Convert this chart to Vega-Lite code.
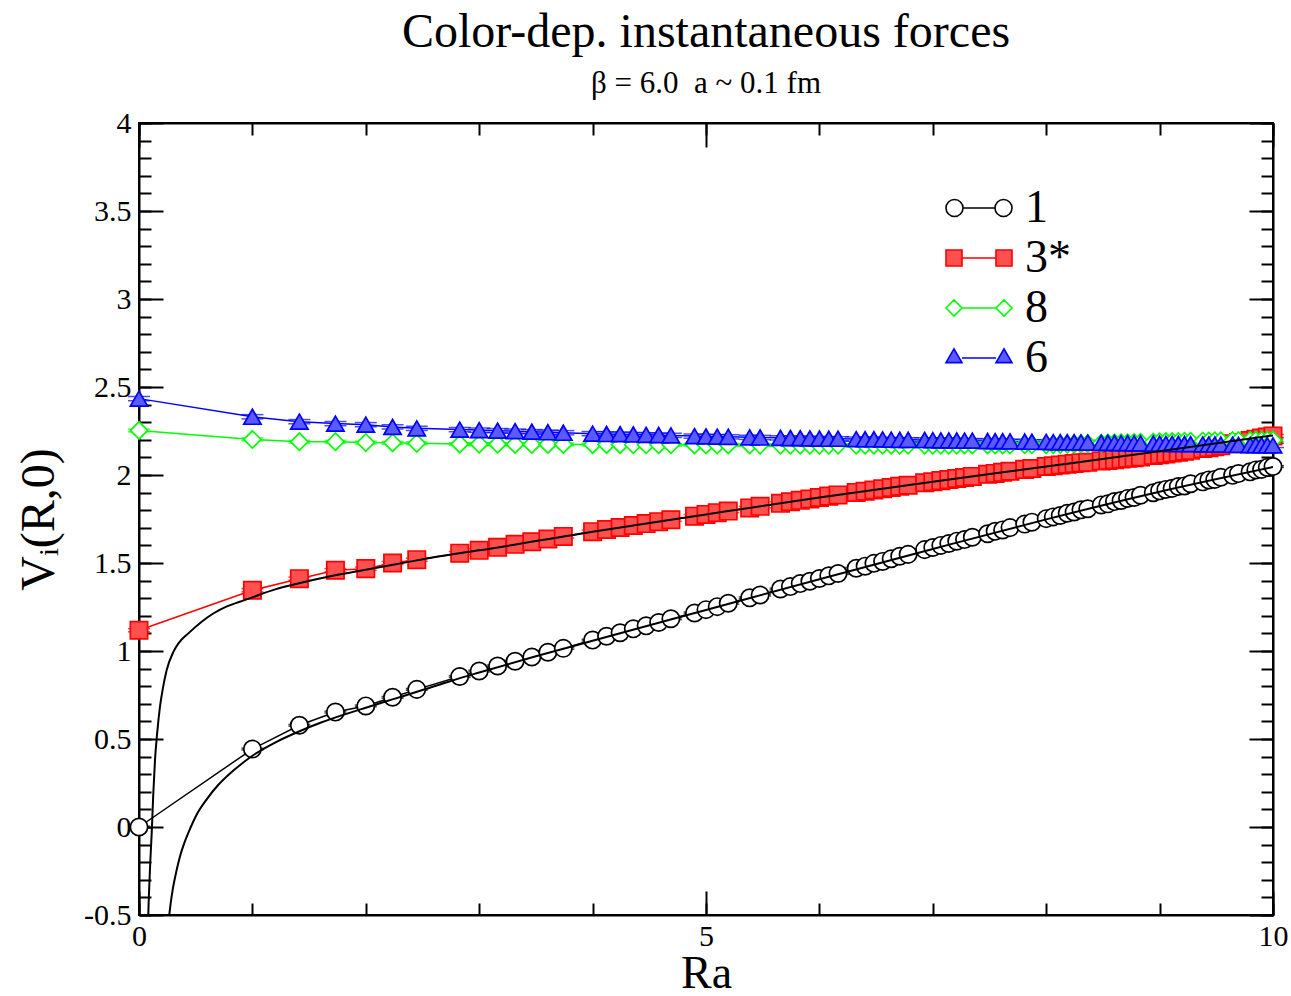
{
"$schema": "https://vega.github.io/schema/vega-lite/v6.json",
"width": 1134, "height": 792,
"autosize": {"type": "none"},
"padding": {"left": 139, "top": 123, "right": 18, "bottom": 81},
"background": "white",
"title": {"text": "Color-dep. instantaneous forces", "subtitle": "β = 6.0\u00a0 a ~ 0.1 fm", "anchor": "middle", "frame": "group", "font": "Liberation Serif", "fontSize": 48, "fontWeight": "normal", "color": "black", "subtitleFont": "Liberation Serif", "subtitleFontSize": 31, "subtitleFontWeight": "normal", "subtitleColor": "black", "offset": 9, "subtitlePadding": 12},
"config": {
  "view": {"stroke": "black", "strokeWidth": 2},
  "axis": {"grid": false, "domainColor": "black", "domainWidth": 2, "tickColor": "black", "tickWidth": 2, "labelFont": "Liberation Serif", "labelFontSize": 30, "labelColor": "black", "titleFont": "Liberation Serif", "titleFontSize": 46, "titleFontWeight": "normal", "titleColor": "black", "labelFlush": false, "labelOverlap": false}
},
"datasets": {
"pts": [
{"s":"1","R":0,"V":0,"e":0.005},{"s":"1","R":1,"V":0.443,"e":0.005},{"s":"1","R":1.4142,"V":0.578,"e":0.005},{"s":"1","R":1.7321,"V":0.653,"e":0.005},{"s":"1","R":2,"V":0.688,"e":0.005},{"s":"1","R":2.2361,"V":0.737,"e":0.005},{"s":"1","R":2.4495,"V":0.782,"e":0.005},
{"s":"1","R":2.8284,"V":0.855,"e":0.005},{"s":"1","R":3,"V":0.886,"e":0.005},{"s":"1","R":3.1623,"V":0.915,"e":0.005},{"s":"1","R":3.3166,"V":0.942,"e":0.005},{"s":"1","R":3.4641,"V":0.966,"e":0.005},{"s":"1","R":3.6056,"V":0.993,"e":0.005},{"s":"1","R":3.7417,"V":1.015,"e":0.005},
{"s":"1","R":4,"V":1.062,"e":0.005},{"s":"1","R":4.1231,"V":1.084,"e":0.005},{"s":"1","R":4.2426,"V":1.104,"e":0.005},{"s":"1","R":4.3589,"V":1.126,"e":0.005},{"s":"1","R":4.4721,"V":1.143,"e":0.005},{"s":"1","R":4.5826,"V":1.162,"e":0.005},{"s":"1","R":4.6904,"V":1.183,"e":0.005},{"s":"1","R":4.899,"V":1.216,"e":0.005},
{"s":"1","R":5,"V":1.235,"e":0.005},{"s":"1","R":5.099,"V":1.252,"e":0.005},{"s":"1","R":5.1962,"V":1.271,"e":0.005},{"s":"1","R":5.3852,"V":1.302,"e":0.005},{"s":"1","R":5.4772,"V":1.318,"e":0.005},{"s":"1","R":5.6569,"V":1.352,"e":0.005},{"s":"1","R":5.7446,"V":1.366,"e":0.005},{"s":"1","R":5.831,"V":1.383,"e":0.005},{"s":"1","R":5.9161,"V":1.396,"e":0.005},
{"s":"1","R":6,"V":1.412,"e":0.005},{"s":"1","R":6.0828,"V":1.427,"e":0.005},{"s":"1","R":6.1644,"V":1.44,"e":0.005},{"s":"1","R":6.3246,"V":1.47,"e":0.005},{"s":"1","R":6.4031,"V":1.482,"e":0.005},{"s":"1","R":6.4807,"V":1.498,"e":0.005},{"s":"1","R":6.5574,"V":1.509,"e":0.005},{"s":"1","R":6.6332,"V":1.524,"e":0.005},{"s":"1","R":6.7082,"V":1.538,"e":0.005},{"s":"1","R":6.7823,"V":1.549,"e":0.005},{"s":"1","R":6.9282,"V":1.576,"e":0.005},
{"s":"1","R":7,"V":1.588,"e":0.005},{"s":"1","R":7.0711,"V":1.6,"e":0.005},{"s":"1","R":7.1414,"V":1.611,"e":0.005},{"s":"1","R":7.2111,"V":1.624,"e":0.005},{"s":"1","R":7.2801,"V":1.633,"e":0.005},{"s":"1","R":7.3485,"V":1.646,"e":0.005},{"s":"1","R":7.4833,"V":1.666,"e":0.005},{"s":"1","R":7.5498,"V":1.68,"e":0.005},{"s":"1","R":7.6158,"V":1.688,"e":0.005},{"s":"1","R":7.6811,"V":1.701,"e":0.005},{"s":"1","R":7.8102,"V":1.721,"e":0.005},{"s":"1","R":7.874,"V":1.732,"e":0.005},
{"s":"1","R":8,"V":1.752,"e":0.005},{"s":"1","R":8.0623,"V":1.762,"e":0.005},{"s":"1","R":8.124,"V":1.77,"e":0.005},{"s":"1","R":8.1854,"V":1.783,"e":0.005},{"s":"1","R":8.2462,"V":1.79,"e":0.005},{"s":"1","R":8.3066,"V":1.802,"e":0.005},{"s":"1","R":8.3666,"V":1.808,"e":0.005},{"s":"1","R":8.4853,"V":1.83,"e":0.005},{"s":"1","R":8.544,"V":1.836,"e":0.005},{"s":"1","R":8.6023,"V":1.849,"e":0.005},{"s":"1","R":8.6603,"V":1.855,"e":0.005},{"s":"1","R":8.7178,"V":1.867,"e":0.005},{"s":"1","R":8.775,"V":1.872,"e":0.005},{"s":"1","R":8.8318,"V":1.885,"e":0.005},{"s":"1","R":8.9443,"V":1.899,"e":0.005},
{"s":"1","R":9,"V":1.91,"e":0.005},{"s":"1","R":9.0554,"V":1.918,"e":0.005},{"s":"1","R":9.1104,"V":1.924,"e":0.005},{"s":"1","R":9.1652,"V":1.935,"e":0.005},{"s":"1","R":9.2195,"V":1.938,"e":0.005},{"s":"1","R":9.2736,"V":1.95,"e":0.005},{"s":"1","R":9.3808,"V":1.961,"e":0.005},{"s":"1","R":9.434,"V":1.972,"e":0.005},{"s":"1","R":9.4868,"V":1.975,"e":0.005},{"s":"1","R":9.5394,"V":1.987,"e":0.005},{"s":"1","R":9.6437,"V":1.998,"e":0.005},{"s":"1","R":9.6954,"V":2.008,"e":0.005},{"s":"1","R":9.798,"V":2.018,"e":0.005},{"s":"1","R":9.8489,"V":2.029,"e":0.005},{"s":"1","R":9.8995,"V":2.032,"e":0.005},{"s":"1","R":9.9499,"V":2.043,"e":0.005},{"s":"1","R":10,"V":2.048,"e":0.005},

{"s":"3*","R":0,"V":1.118,"e":0.009},{"s":"3*","R":1,"V":1.345,"e":0.009},{"s":"3*","R":1.4142,"V":1.411,"e":0.009},{"s":"3*","R":1.7321,"V":1.459,"e":0.009},{"s":"3*","R":2,"V":1.468,"e":0.009},{"s":"3*","R":2.2361,"V":1.5,"e":0.009},{"s":"3*","R":2.4495,"V":1.519,"e":0.009},
{"s":"3*","R":2.8284,"V":1.556,"e":0.009},{"s":"3*","R":3,"V":1.572,"e":0.009},{"s":"3*","R":3.1623,"V":1.589,"e":0.009},{"s":"3*","R":3.3166,"V":1.606,"e":0.009},{"s":"3*","R":3.4641,"V":1.621,"e":0.009},{"s":"3*","R":3.6056,"V":1.636,"e":0.009},{"s":"3*","R":3.7417,"V":1.651,"e":0.009},
{"s":"3*","R":4,"V":1.678,"e":0.009},{"s":"3*","R":4.1231,"V":1.69,"e":0.009},{"s":"3*","R":4.2426,"V":1.702,"e":0.009},{"s":"3*","R":4.3589,"V":1.713,"e":0.009},{"s":"3*","R":4.4721,"V":1.724,"e":0.009},{"s":"3*","R":4.5826,"V":1.735,"e":0.009},{"s":"3*","R":4.6904,"V":1.746,"e":0.009},{"s":"3*","R":4.899,"V":1.766,"e":0.009},
{"s":"3*","R":5,"V":1.776,"e":0.009},{"s":"3*","R":5.099,"V":1.786,"e":0.009},{"s":"3*","R":5.1962,"V":1.795,"e":0.009},{"s":"3*","R":5.3852,"V":1.813,"e":0.009},{"s":"3*","R":5.4772,"V":1.822,"e":0.009},{"s":"3*","R":5.6569,"V":1.839,"e":0.009},{"s":"3*","R":5.7446,"V":1.848,"e":0.009},{"s":"3*","R":5.831,"V":1.856,"e":0.009},{"s":"3*","R":5.9161,"V":1.864,"e":0.009},
{"s":"3*","R":6,"V":1.872,"e":0.009},{"s":"3*","R":6.0828,"V":1.88,"e":0.009},{"s":"3*","R":6.1644,"V":1.887,"e":0.009},{"s":"3*","R":6.3246,"V":1.901,"e":0.009},{"s":"3*","R":6.4031,"V":1.908,"e":0.009},{"s":"3*","R":6.4807,"V":1.915,"e":0.009},{"s":"3*","R":6.5574,"V":1.922,"e":0.009},{"s":"3*","R":6.6332,"V":1.929,"e":0.009},{"s":"3*","R":6.7082,"V":1.936,"e":0.009},{"s":"3*","R":6.7823,"V":1.942,"e":0.009},{"s":"3*","R":6.9282,"V":1.956,"e":0.009},
{"s":"3*","R":7,"V":1.962,"e":0.009},{"s":"3*","R":7.0711,"V":1.968,"e":0.009},{"s":"3*","R":7.1414,"V":1.974,"e":0.009},{"s":"3*","R":7.2111,"V":1.98,"e":0.009},{"s":"3*","R":7.2801,"V":1.986,"e":0.009},{"s":"3*","R":7.3485,"V":1.992,"e":0.009},{"s":"3*","R":7.4833,"V":2.004,"e":0.009},{"s":"3*","R":7.5498,"V":2.009,"e":0.009},{"s":"3*","R":7.6158,"V":2.015,"e":0.009},{"s":"3*","R":7.6811,"V":2.021,"e":0.009},{"s":"3*","R":7.8102,"V":2.032,"e":0.009},{"s":"3*","R":7.874,"V":2.037,"e":0.009},
{"s":"3*","R":8,"V":2.048,"e":0.009},{"s":"3*","R":8.0623,"V":2.052,"e":0.009},{"s":"3*","R":8.124,"V":2.057,"e":0.009},{"s":"3*","R":8.1854,"V":2.061,"e":0.009},{"s":"3*","R":8.2462,"V":2.065,"e":0.009},{"s":"3*","R":8.3066,"V":2.069,"e":0.009},{"s":"3*","R":8.3666,"V":2.072,"e":0.009},{"s":"3*","R":8.4853,"V":2.08,"e":0.009},{"s":"3*","R":8.544,"V":2.083,"e":0.009},{"s":"3*","R":8.6023,"V":2.087,"e":0.009},{"s":"3*","R":8.6603,"V":2.091,"e":0.009},{"s":"3*","R":8.7178,"V":2.095,"e":0.009},{"s":"3*","R":8.775,"V":2.098,"e":0.009},{"s":"3*","R":8.8318,"V":2.102,"e":0.009},{"s":"3*","R":8.9443,"V":2.111,"e":0.009},
{"s":"3*","R":9,"V":2.115,"e":0.009},{"s":"3*","R":9.0554,"V":2.12,"e":0.009},{"s":"3*","R":9.1104,"V":2.125,"e":0.009},{"s":"3*","R":9.1652,"V":2.13,"e":0.009},{"s":"3*","R":9.2195,"V":2.135,"e":0.009},{"s":"3*","R":9.2736,"V":2.14,"e":0.009},{"s":"3*","R":9.3808,"V":2.15,"e":0.009},{"s":"3*","R":9.434,"V":2.155,"e":0.009},{"s":"3*","R":9.4868,"V":2.16,"e":0.009},{"s":"3*","R":9.5394,"V":2.166,"e":0.009},{"s":"3*","R":9.6437,"V":2.178,"e":0.009},{"s":"3*","R":9.6954,"V":2.184,"e":0.009},{"s":"3*","R":9.798,"V":2.196,"e":0.009},{"s":"3*","R":9.8489,"V":2.203,"e":0.009},{"s":"3*","R":9.8995,"V":2.21,"e":0.009},{"s":"3*","R":9.9499,"V":2.216,"e":0.009},{"s":"3*","R":10,"V":2.222,"e":0.009},

{"s":"8","R":0,"V":2.253,"e":0.008},{"s":"8","R":1,"V":2.202,"e":0.008},{"s":"8","R":1.4142,"V":2.189,"e":0.008},{"s":"8","R":1.7321,"V":2.189,"e":0.008},{"s":"8","R":2,"V":2.184,"e":0.008},{"s":"8","R":2.2361,"V":2.183,"e":0.008},{"s":"8","R":2.4495,"V":2.18,"e":0.008},
{"s":"8","R":2.8284,"V":2.176,"e":0.008},{"s":"8","R":3,"V":2.175,"e":0.008},{"s":"8","R":3.1623,"V":2.175,"e":0.008},{"s":"8","R":3.3166,"V":2.174,"e":0.008},{"s":"8","R":3.4641,"V":2.174,"e":0.008},{"s":"8","R":3.6056,"V":2.174,"e":0.008},{"s":"8","R":3.7417,"V":2.174,"e":0.008},
{"s":"8","R":4,"V":2.173,"e":0.008},{"s":"8","R":4.1231,"V":2.173,"e":0.008},{"s":"8","R":4.2426,"V":2.173,"e":0.008},{"s":"8","R":4.3589,"V":2.172,"e":0.008},{"s":"8","R":4.4721,"V":2.172,"e":0.008},{"s":"8","R":4.5826,"V":2.172,"e":0.008},{"s":"8","R":4.6904,"V":2.172,"e":0.008},{"s":"8","R":4.899,"V":2.171,"e":0.008},
{"s":"8","R":5,"V":2.171,"e":0.008},{"s":"8","R":5.099,"V":2.171,"e":0.008},{"s":"8","R":5.1962,"V":2.171,"e":0.008},{"s":"8","R":5.3852,"V":2.171,"e":0.008},{"s":"8","R":5.4772,"V":2.17,"e":0.008},{"s":"8","R":5.6569,"V":2.17,"e":0.008},{"s":"8","R":5.7446,"V":2.17,"e":0.008},{"s":"8","R":5.831,"V":2.17,"e":0.008},{"s":"8","R":5.9161,"V":2.17,"e":0.008},
{"s":"8","R":6,"V":2.17,"e":0.008},{"s":"8","R":6.0828,"V":2.17,"e":0.008},{"s":"8","R":6.1644,"V":2.17,"e":0.008},{"s":"8","R":6.3246,"V":2.17,"e":0.008},{"s":"8","R":6.4031,"V":2.17,"e":0.008},{"s":"8","R":6.4807,"V":2.17,"e":0.008},{"s":"8","R":6.5574,"V":2.17,"e":0.008},{"s":"8","R":6.6332,"V":2.17,"e":0.008},{"s":"8","R":6.7082,"V":2.17,"e":0.008},{"s":"8","R":6.7823,"V":2.17,"e":0.008},{"s":"8","R":6.9282,"V":2.17,"e":0.008},
{"s":"8","R":7,"V":2.17,"e":0.008},{"s":"8","R":7.0711,"V":2.17,"e":0.008},{"s":"8","R":7.1414,"V":2.17,"e":0.008},{"s":"8","R":7.2111,"V":2.17,"e":0.008},{"s":"8","R":7.2801,"V":2.171,"e":0.008},{"s":"8","R":7.3485,"V":2.171,"e":0.008},{"s":"8","R":7.4833,"V":2.171,"e":0.008},{"s":"8","R":7.5498,"V":2.171,"e":0.008},{"s":"8","R":7.6158,"V":2.171,"e":0.008},{"s":"8","R":7.6811,"V":2.171,"e":0.008},{"s":"8","R":7.8102,"V":2.172,"e":0.008},{"s":"8","R":7.874,"V":2.172,"e":0.008},
{"s":"8","R":8,"V":2.172,"e":0.008},{"s":"8","R":8.0623,"V":2.173,"e":0.008},{"s":"8","R":8.124,"V":2.174,"e":0.008},{"s":"8","R":8.1854,"V":2.175,"e":0.008},{"s":"8","R":8.2462,"V":2.176,"e":0.008},{"s":"8","R":8.3066,"V":2.177,"e":0.008},{"s":"8","R":8.3666,"V":2.178,"e":0.008},{"s":"8","R":8.4853,"V":2.18,"e":0.008},{"s":"8","R":8.544,"V":2.181,"e":0.008},{"s":"8","R":8.6023,"V":2.182,"e":0.008},{"s":"8","R":8.6603,"V":2.183,"e":0.008},{"s":"8","R":8.7178,"V":2.183,"e":0.008},{"s":"8","R":8.775,"V":2.184,"e":0.008},{"s":"8","R":8.8318,"V":2.185,"e":0.008},{"s":"8","R":8.9443,"V":2.187,"e":0.008},
{"s":"8","R":9,"V":2.188,"e":0.008},{"s":"8","R":9.0554,"V":2.189,"e":0.008},{"s":"8","R":9.1104,"V":2.189,"e":0.008},{"s":"8","R":9.1652,"V":2.19,"e":0.008},{"s":"8","R":9.2195,"V":2.191,"e":0.008},{"s":"8","R":9.2736,"V":2.191,"e":0.008},{"s":"8","R":9.3808,"V":2.193,"e":0.008},{"s":"8","R":9.434,"V":2.193,"e":0.008},{"s":"8","R":9.4868,"V":2.194,"e":0.008},{"s":"8","R":9.5394,"V":2.194,"e":0.008},{"s":"8","R":9.6437,"V":2.195,"e":0.008},{"s":"8","R":9.6954,"V":2.196,"e":0.008},{"s":"8","R":9.798,"V":2.196,"e":0.008},{"s":"8","R":9.8489,"V":2.197,"e":0.008},{"s":"8","R":9.8995,"V":2.197,"e":0.008},{"s":"8","R":9.9499,"V":2.198,"e":0.008},{"s":"8","R":10,"V":2.198,"e":0.008},

{"s":"6","R":0,"V":2.434,"e":0.012},{"s":"6","R":1,"V":2.331,"e":0.012},{"s":"6","R":1.4142,"V":2.303,"e":0.012},{"s":"6","R":1.7321,"V":2.292,"e":0.012},{"s":"6","R":2,"V":2.286,"e":0.012},{"s":"6","R":2.2361,"V":2.273,"e":0.012},{"s":"6","R":2.4495,"V":2.265,"e":0.012},
{"s":"6","R":2.8284,"V":2.258,"e":0.012},{"s":"6","R":3,"V":2.255,"e":0.012},{"s":"6","R":3.1623,"V":2.252,"e":0.012},{"s":"6","R":3.3166,"V":2.249,"e":0.012},{"s":"6","R":3.4641,"V":2.246,"e":0.012},{"s":"6","R":3.6056,"V":2.243,"e":0.012},{"s":"6","R":3.7417,"V":2.24,"e":0.012},
{"s":"6","R":4,"V":2.235,"e":0.012},{"s":"6","R":4.1231,"V":2.233,"e":0.012},{"s":"6","R":4.2426,"V":2.232,"e":0.012},{"s":"6","R":4.3589,"V":2.23,"e":0.012},{"s":"6","R":4.4721,"V":2.228,"e":0.012},{"s":"6","R":4.5826,"V":2.227,"e":0.012},{"s":"6","R":4.6904,"V":2.225,"e":0.012},{"s":"6","R":4.899,"V":2.221,"e":0.012},
{"s":"6","R":5,"V":2.219,"e":0.012},{"s":"6","R":5.099,"V":2.218,"e":0.012},{"s":"6","R":5.1962,"V":2.217,"e":0.012},{"s":"6","R":5.3852,"V":2.214,"e":0.012},{"s":"6","R":5.4772,"V":2.213,"e":0.012},{"s":"6","R":5.6569,"V":2.211,"e":0.012},{"s":"6","R":5.7446,"V":2.21,"e":0.012},{"s":"6","R":5.831,"V":2.209,"e":0.012},{"s":"6","R":5.9161,"V":2.208,"e":0.012},
{"s":"6","R":6,"V":2.207,"e":0.012},{"s":"6","R":6.0828,"V":2.206,"e":0.012},{"s":"6","R":6.1644,"V":2.206,"e":0.012},{"s":"6","R":6.3246,"V":2.204,"e":0.012},{"s":"6","R":6.4031,"V":2.203,"e":0.012},{"s":"6","R":6.4807,"V":2.203,"e":0.012},{"s":"6","R":6.5574,"V":2.202,"e":0.012},{"s":"6","R":6.6332,"V":2.201,"e":0.012},{"s":"6","R":6.7082,"V":2.2,"e":0.012},{"s":"6","R":6.7823,"V":2.2,"e":0.012},{"s":"6","R":6.9282,"V":2.199,"e":0.012},
{"s":"6","R":7,"V":2.198,"e":0.012},{"s":"6","R":7.0711,"V":2.197,"e":0.012},{"s":"6","R":7.1414,"V":2.197,"e":0.012},{"s":"6","R":7.2111,"V":2.196,"e":0.012},{"s":"6","R":7.2801,"V":2.195,"e":0.012},{"s":"6","R":7.3485,"V":2.195,"e":0.012},{"s":"6","R":7.4833,"V":2.193,"e":0.012},{"s":"6","R":7.5498,"V":2.192,"e":0.012},{"s":"6","R":7.6158,"V":2.192,"e":0.012},{"s":"6","R":7.6811,"V":2.191,"e":0.012},{"s":"6","R":7.8102,"V":2.19,"e":0.012},{"s":"6","R":7.874,"V":2.189,"e":0.012},
{"s":"6","R":8,"V":2.188,"e":0.012},{"s":"6","R":8.0623,"V":2.187,"e":0.012},{"s":"6","R":8.124,"V":2.187,"e":0.012},{"s":"6","R":8.1854,"V":2.186,"e":0.012},{"s":"6","R":8.2462,"V":2.186,"e":0.012},{"s":"6","R":8.3066,"V":2.185,"e":0.012},{"s":"6","R":8.3666,"V":2.184,"e":0.012},{"s":"6","R":8.4853,"V":2.183,"e":0.012},{"s":"6","R":8.544,"V":2.183,"e":0.012},{"s":"6","R":8.6023,"V":2.182,"e":0.012},{"s":"6","R":8.6603,"V":2.181,"e":0.012},{"s":"6","R":8.7178,"V":2.181,"e":0.012},{"s":"6","R":8.775,"V":2.18,"e":0.012},{"s":"6","R":8.8318,"V":2.18,"e":0.012},{"s":"6","R":8.9443,"V":2.179,"e":0.012},
{"s":"6","R":9,"V":2.178,"e":0.012},{"s":"6","R":9.0554,"V":2.177,"e":0.012},{"s":"6","R":9.1104,"V":2.177,"e":0.012},{"s":"6","R":9.1652,"V":2.176,"e":0.012},{"s":"6","R":9.2195,"V":2.176,"e":0.012},{"s":"6","R":9.2736,"V":2.175,"e":0.012},{"s":"6","R":9.3808,"V":2.174,"e":0.012},{"s":"6","R":9.434,"V":2.174,"e":0.012},{"s":"6","R":9.4868,"V":2.173,"e":0.012},{"s":"6","R":9.5394,"V":2.173,"e":0.012},{"s":"6","R":9.6437,"V":2.172,"e":0.012},{"s":"6","R":9.6954,"V":2.171,"e":0.012},{"s":"6","R":9.798,"V":2.17,"e":0.012},{"s":"6","R":9.8489,"V":2.17,"e":0.012},{"s":"6","R":9.8995,"V":2.169,"e":0.012},{"s":"6","R":9.9499,"V":2.169,"e":0.012},{"s":"6","R":10,"V":2.168,"e":0.012}
],
"fits": [
{"f":"1","R":0.25,"V":-0.58},{"f":"1","R":0.267,"V":-0.5},{"f":"1","R":0.28,"V":-0.43},{"f":"1","R":0.3,"V":-0.345},{"f":"1","R":0.33,"V":-0.25},{"f":"1","R":0.36,"V":-0.17},{"f":"1","R":0.4,"V":-0.09},{"f":"1","R":0.45,"V":-0.01},{"f":"1","R":0.5,"V":0.06},{"f":"1","R":0.6,"V":0.16},{"f":"1","R":0.7,"V":0.24},{"f":"1","R":0.8,"V":0.303},{"f":"1","R":0.9,"V":0.357},{"f":"1","R":1,"V":0.405},{"f":"1","R":1.2,"V":0.48},{"f":"1","R":1.4,"V":0.54},{"f":"1","R":1.6,"V":0.592},{"f":"1","R":1.8,"V":0.637},{"f":"1","R":2,"V":0.678},{"f":"1","R":2.25,"V":0.728},{"f":"1","R":2.5,"V":0.778},{"f":"1","R":2.75,"V":0.83},{"f":"1","R":3,"V":0.878},{"f":"1","R":3.5,"V":0.97},{"f":"1","R":4,"V":1.058},{"f":"1","R":5,"V":1.233},{"f":"1","R":6,"V":1.408},{"f":"1","R":7,"V":1.58},{"f":"1","R":8,"V":1.748},{"f":"1","R":9,"V":1.905},{"f":"1","R":10,"V":2.045},
{"f":"3*","R":0.075,"V":-0.75},{"f":"3*","R":0.082,"V":-0.5},{"f":"3*","R":0.09,"V":-0.345},{"f":"3*","R":0.1,"V":-0.19},{"f":"3*","R":0.112,"V":-0.035},{"f":"3*","R":0.125,"V":0.175},{"f":"3*","R":0.141,"V":0.38},{"f":"3*","R":0.16,"V":0.532},{"f":"3*","R":0.185,"V":0.684},{"f":"3*","R":0.21,"V":0.786},{"f":"3*","R":0.244,"V":0.892},{"f":"3*","R":0.303,"V":0.995},{"f":"3*","R":0.35,"V":1.045},{"f":"3*","R":0.435,"V":1.1},{"f":"3*","R":0.55,"V":1.165},{"f":"3*","R":0.655,"V":1.213},{"f":"3*","R":0.78,"V":1.255},{"f":"3*","R":0.89,"V":1.28},{"f":"3*","R":1,"V":1.305},{"f":"3*","R":1.2,"V":1.35},{"f":"3*","R":1.42,"V":1.386},{"f":"3*","R":1.73,"V":1.43},{"f":"3*","R":2,"V":1.462},{"f":"3*","R":2.45,"V":1.515},{"f":"3*","R":2.75,"V":1.548},{"f":"3*","R":3,"V":1.572},{"f":"3*","R":4,"V":1.678},{"f":"3*","R":5,"V":1.776},{"f":"3*","R":6,"V":1.872},{"f":"3*","R":7,"V":1.962},{"f":"3*","R":8,"V":2.048},{"f":"3*","R":9,"V":2.135},{"f":"3*","R":10,"V":2.225}
]
},
"layer": [
{
  "data": {"name": "pts"},
  "mark": {"type": "line", "strokeWidth": 1.5},
  "encoding": {
    "x": {"field": "R", "type": "quantitative", "scale": {"domain": [0, 10], "nice": false, "zero": false},
      "axis": {"orient": "bottom", "values": [0,1,2,3,4,5,6,7,8,9,10], "tickSize": -12, "labels": false, "domain": false, "title": null}},
    "y": {"field": "V", "type": "quantitative", "scale": {"domain": [-0.5, 4], "nice": false, "zero": false},
      "axis": {"orient": "left", "values": [-0.5,-0.4,-0.3,-0.2,-0.1,0,0.1,0.2,0.3,0.4,0.5,0.6,0.7,0.8,0.9,1,1.1,1.2,1.3,1.4,1.5,1.6,1.7,1.8,1.9,2,2.1,2.2,2.3,2.4,2.5,2.6,2.7,2.8,2.9,3,3.1,3.2,3.3,3.4,3.5,3.6,3.7,3.8,3.9,4], "tickSize": -12, "labels": false, "domain": false, "title": null}},
    "color": {"field": "s", "type": "nominal", "scale": {"domain": ["1","3*","8","6"], "range": ["#000000","#ff0000","#00ff00","#0000ff"]}, "legend": null},
    "detail": {"field": "s"}
  }
},
{
  "data": {"name": "pts"},
  "mark": {"type": "errorbar", "thickness": 1.5, "ticks": {"size": 22, "thickness": 1.5}},
  "encoding": {
    "x": {"field": "R", "type": "quantitative", "scale": {"domain": [0, 10], "nice": false, "zero": false}, "axis": null},
    "y": {"field": "V", "type": "quantitative", "scale": {"domain": [-0.5, 4], "nice": false, "zero": false}, "axis": null},
    "yError": {"field": "e"},
    "color": {"field": "s", "type": "nominal", "scale": {"domain": ["1","3*","8","6"], "range": ["#000000","#ff0000","#00ff00","#0000ff"]}, "legend": null}
  }
},
{
  "data": {"name": "pts"},
  "mark": {"type": "point", "filled": true, "size": 300, "strokeWidth": 1.7, "opacity": 1, "fillOpacity": 1},
  "encoding": {
    "x": {"field": "R", "type": "quantitative", "scale": {"domain": [0, 10], "nice": false, "zero": false},
      "axis": {"orient": "top", "values": [0,5,10], "tickSize": -24, "labels": false, "domain": true, "title": null}},
    "y": {"field": "V", "type": "quantitative", "scale": {"domain": [-0.5, 4], "nice": false, "zero": false},
      "axis": {"orient": "right", "values": [-0.5,0,0.5,1,1.5,2,2.5,3,3.5,4], "tickSize": -24, "labels": false, "domain": true, "title": null}},
    "stroke": {"field": "s", "type": "nominal", "scale": {"domain": ["1","3*","8","6"], "range": ["#000000","#ff0000","#00ff00","#0000ff"]}, "legend": null},
    "fill": {"field": "s", "type": "nominal", "scale": {"domain": ["1","3*","8","6"], "range": ["#ffffff","#ff5050","#ffffff","#5a5aff"]}, "legend": null},
    "shape": {"field": "s", "type": "nominal", "scale": {"domain": ["1","3*","8","6"], "range": ["circle","square","diamond","triangle-up"]}, "legend": null}
  }
},
{
  "data": {"name": "fits"},
  "mark": {"type": "line", "strokeWidth": 2, "color": "black", "clip": true, "interpolate": "monotone"},
  "encoding": {
    "x": {"field": "R", "type": "quantitative", "scale": {"domain": [0, 10], "nice": false, "zero": false},
      "axis": {"orient": "bottom", "values": [0,5,10], "tickSize": -24, "labelPadding": 30, "domain": true, "title": "Ra", "titlePadding": 0}},
    "y": {"field": "V", "type": "quantitative", "scale": {"domain": [-0.5, 4], "nice": false, "zero": false},
      "axis": {"orient": "left", "values": [-0.5,0,0.5,1,1.5,2,2.5,3,3.5,4], "tickSize": -24, "labelPadding": 32, "labelExpr": "'' + datum.value", "domain": true, "title": "Vᵢ(R,0)", "titlePadding": 20, "titleFontSize": 48}},
    "detail": {"field": "f"}
  }
},
{
  "data": {"name": "pts"},
  "transform": [{"filter": "datum.R > 100"}],
  "mark": {"type": "point", "filled": true, "opacity": 1, "fillOpacity": 1},
  "encoding": {
    "x": {"field": "R", "type": "quantitative", "scale": {"domain": [0, 10], "nice": false, "zero": false},
      "axis": {"orient": "top", "values": [0,1,2,3,4,5,6,7,8,9,10], "tickSize": -12, "labels": false, "domain": false, "title": null}},
    "y": {"field": "V", "type": "quantitative", "scale": {"domain": [-0.5, 4], "nice": false, "zero": false},
      "axis": {"orient": "right", "values": [-0.5,-0.4,-0.3,-0.2,-0.1,0,0.1,0.2,0.3,0.4,0.5,0.6,0.7,0.8,0.9,1,1.1,1.2,1.3,1.4,1.5,1.6,1.7,1.8,1.9,2,2.1,2.2,2.3,2.4,2.5,2.6,2.7,2.8,2.9,3,3.1,3.2,3.3,3.4,3.5,3.6,3.7,3.8,3.9,4], "tickSize": -12, "labels": false, "domain": false, "title": null}},
    "stroke": {"field": "s", "type": "nominal", "scale": {"domain": ["1","3*","8","6"], "range": ["#000000","#ff0000","#00ff00","#0000ff"]},
      "legend": {"orient": "none", "legendX": 817, "legendY": 62, "title": null, "symbolSize": 1089, "symbolStrokeWidth": 1.6, "labelFont": "Liberation Serif", "labelFontSize": 46, "labelColor": "black", "labelOffset": 23, "rowPadding": 4, "symbolOpacity": 1}},
    "fill": {"field": "s", "type": "nominal", "scale": {"domain": ["1","3*","8","6"], "range": ["#ffffff","#ff5050","#ffffff","#5a5aff"]},
      "legend": {"orient": "none", "legendX": 817, "legendY": 62, "title": null, "symbolSize": 1089, "symbolStrokeWidth": 1.6, "labelFont": "Liberation Serif", "labelFontSize": 46, "labelColor": "black", "labelOffset": 23, "rowPadding": 4, "symbolOpacity": 1}},
    "shape": {"field": "s", "type": "nominal", "scale": {"domain": ["1","3*","8","6"], "range": [
        "M-2,0A0.515,0.515 0 1,0 -0.97,0A0.515,0.515 0 1,0 -2,0Z M-0.97,0L0.97,0 M0.97,0A0.515,0.515 0 1,0 2,0A0.515,0.515 0 1,0 0.97,0Z",
        "M-2,-0.485H-1.03V0.485H-2Z M-1.03,0H1.03 M1.03,-0.485H2V0.485H1.03Z",
        "M-2,0L-1.515,-0.485L-1.03,0L-1.515,0.485Z M-1.03,0H1.03 M1.03,0L1.515,-0.485L2,0L1.515,0.485Z",
        "M-2,0.28L-1.515,-0.56L-1.03,0.28Z M-1.03,0H1.03 M1.03,0.28L1.515,-0.56L2,0.28Z"]},
      "legend": {"orient": "none", "legendX": 817, "legendY": 62, "title": null, "symbolSize": 1089, "symbolStrokeWidth": 1.6, "labelFont": "Liberation Serif", "labelFontSize": 46, "labelColor": "black", "labelOffset": 23, "rowPadding": 4, "symbolOpacity": 1}}
  }
}
],
"resolve": {"axis": {"x": "independent", "y": "independent"}, "scale": {"stroke": "independent", "fill": "independent", "shape": "independent"}}
}
